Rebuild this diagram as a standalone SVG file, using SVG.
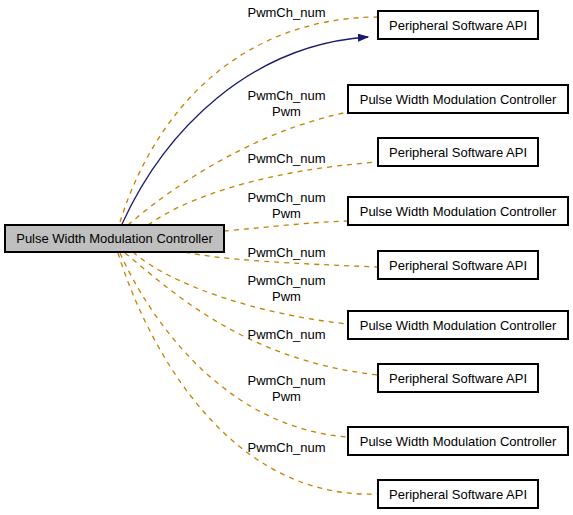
<svg xmlns="http://www.w3.org/2000/svg" width="573" height="515" viewBox="0 0 573 515">
<style>
  .box { fill: #ffffff; stroke: #000000; stroke-width: 2; }
  .main { fill: #bfbfbf; stroke: #000000; stroke-width: 2; }
  .t { font-family: "Liberation Sans", Arial, sans-serif; font-size: 13px; fill: #000000; text-anchor: middle; }
  .use { fill: none; stroke: #c48200; stroke-width: 1.3; stroke-dasharray: 5,5; }
  .inh { fill: none; stroke: #191970; stroke-width: 1.3; }
</style>
<defs>
  <marker id="arr" markerUnits="userSpaceOnUse" markerWidth="11" markerHeight="8" refX="10" refY="3.5" orient="auto">
    <path d="M0,0 L10,3.5 L0,7 z" fill="#191970" stroke="#191970" stroke-width="1"/>
  </marker>
</defs>
<rect width="573" height="515" fill="#ffffff"/>
<g id="connectors">
  <path class="inh" d="M122,224 C165,130 250,45 368,37" marker-end="url(#arr)"/>
  <path class="use" d="M120,222 C155,110 240,18 378,17"/>
  <path class="use" d="M128,225 C180,180 260,130 348,112"/>
  <path class="use" d="M148,225 C190,195 270,170 378,162"/>
  <path class="use" d="M224,231 C260,228 310,222 348,221"/>
  <path class="use" d="M185,252 C220,260 300,264 378,267"/>
  <path class="use" d="M133,252 C170,285 260,315 348,324"/>
  <path class="use" d="M125,253 C165,285 240,360 378,375"/>
  <path class="use" d="M120,253 C150,320 225,428 348,437"/>
  <path class="use" d="M118,253 C145,340 225,500 378,494"/>
  <g class="t">
    <text x="286.5" y="17">PwmCh_num</text>
    <text x="286.5" y="100">PwmCh_num</text>
    <text x="286.5" y="116">Pwm</text>
    <text x="286.5" y="163">PwmCh_num</text>
    <text x="286.5" y="202">PwmCh_num</text>
    <text x="286.5" y="218">Pwm</text>
    <text x="286.5" y="257">PwmCh_num</text>
    <text x="286.5" y="284.5">PwmCh_num</text>
    <text x="286.5" y="301">Pwm</text>
    <text x="286.5" y="339">PwmCh_num</text>
    <text x="286.5" y="384.5">PwmCh_num</text>
    <text x="286.5" y="401">Pwm</text>
    <text x="286.5" y="451.5">PwmCh_num</text>
  </g>
</g>
<g id="node_main">
  <rect class="main" x="5" y="225" width="219" height="27"/>
  <text class="t" x="114.5" y="243">Pulse Width Modulation Controller</text>
</g>
<g id="node_psa1">
  <rect class="box" x="378" y="11" width="160" height="28"/>
  <text class="t" x="458" y="29.5">Peripheral Software API</text>
</g>
<g id="node_pwm1">
  <rect class="box" x="348" y="85" width="220" height="28"/>
  <text class="t" x="458" y="103.5">Pulse Width Modulation Controller</text>
</g>
<g id="node_psa2">
  <rect class="box" x="378" y="138" width="160" height="28"/>
  <text class="t" x="458" y="156.5">Peripheral Software API</text>
</g>
<g id="node_pwm2">
  <rect class="box" x="348" y="197" width="220" height="28"/>
  <text class="t" x="458" y="215.5">Pulse Width Modulation Controller</text>
</g>
<g id="node_psa3">
  <rect class="box" x="378" y="251" width="160" height="28"/>
  <text class="t" x="458" y="269.5">Peripheral Software API</text>
</g>
<g id="node_pwm3">
  <rect class="box" x="348" y="311" width="220" height="28"/>
  <text class="t" x="458" y="329.5">Pulse Width Modulation Controller</text>
</g>
<g id="node_psa4">
  <rect class="box" x="378" y="364" width="160" height="28"/>
  <text class="t" x="458" y="382.5">Peripheral Software API</text>
</g>
<g id="node_pwm4">
  <rect class="box" x="348" y="427" width="220" height="28"/>
  <text class="t" x="458" y="445.5">Pulse Width Modulation Controller</text>
</g>
<g id="node_psa5">
  <rect class="box" x="378" y="480" width="160" height="28"/>
  <text class="t" x="458" y="498.5">Peripheral Software API</text>
</g>
</svg>
